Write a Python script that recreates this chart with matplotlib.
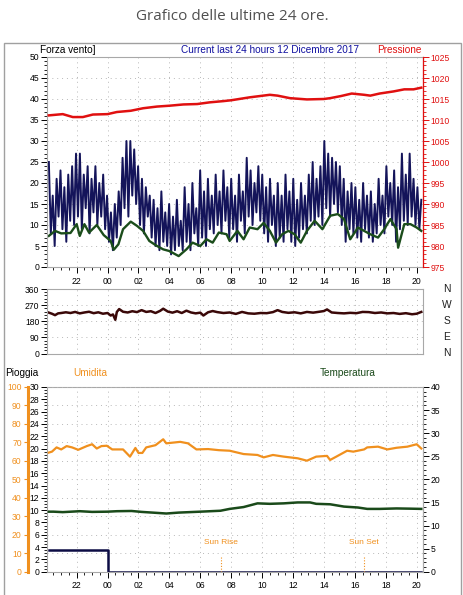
import numpy as np
import matplotlib
matplotlib.use('Agg')
import matplotlib.pyplot as plt
from matplotlib.ticker import MultipleLocator, FixedLocator
from matplotlib.patches import Rectangle

plt.rcParams['font.family'] = ['Liberation Sans', 'DejaVu Sans']

W, H = 464, 595

# ---------------- data ----------------
hour_ticks = [-2, 0, 2, 4, 6, 8, 10, 12, 14, 16, 18, 20]
hour_labels = ['22', '00', '02', '04', '06', '08', '10', '12', '14', '16', '18', '20']
t_start, t_end = -3.8, 20.3

# wind gust (Forza vento), hourly groups of samples
gust = [25, 8, 17, 5, 21, 12,
        23, 9, 19, 6, 22, 11, 24, 10,
        27, 12, 27, 9, 22, 14, 24, 8,
        21, 13, 24, 10, 20, 12, 22, 9,
        17, 6, 13, 4, 15, 7, 18, 10,
        26, 14, 30, 12, 30, 17, 28, 15,
        24, 10, 21, 8, 19, 12, 17, 7,
        16, 5, 14, 4, 18, 6, 13, 5,
        15, 3, 12, 4, 16, 5, 11, 4,
        19, 6, 15, 4, 20, 8, 14, 5,
        23, 7, 18, 5, 21, 9, 17, 8,
        22, 10, 18, 8, 23, 11, 19, 7,
        21, 9, 17, 6, 22, 11, 18, 8,
        26, 12, 23, 10, 20, 13, 24, 11,
        22, 8, 19, 6, 21, 10, 17, 5,
        20, 7, 17, 6, 22, 9, 18, 6,
        21, 5, 16, 7, 20, 9, 17, 8,
        22, 11, 25, 10, 21, 12, 24, 10,
        30, 14, 27, 12, 26, 15, 25, 13,
        24, 10, 21, 6, 18, 9, 20, 8,
        19, 7, 16, 6, 20, 9, 17, 7,
        18, 6, 15, 8, 21, 10, 17, 8,
        24, 12, 20, 10, 23, 6, 19, 9,
        27, 11, 22, 10, 27, 12, 21, 10,
        19, 9, 16]

avg_t = [-3.8, -3.4, -3.0, -2.4, -2.0, -1.8, -1.5, -1.2, -0.7, -0.25, 0.2, 0.4, 0.7, 1.0, 1.5,
         1.9, 2.3, 2.7, 3.2, 3.6, 4.0, 4.6, 5.1, 5.5, 6.0, 6.4, 6.8, 7.2, 7.7, 7.9, 8.4, 8.8,
         9.2, 9.7, 10.1, 10.5, 10.9, 11.3, 11.7, 12.1, 12.5, 12.9, 13.4, 13.9, 14.4, 14.9, 15.3,
         15.7, 16.2, 16.6, 17.0, 17.5, 17.9, 18.3, 18.7, 18.8, 19.2, 19.6, 20.0, 20.3]
avg = [7.4, 8.6, 8.0, 8.1, 10.2, 7.4, 10.2, 8.2, 10.0, 7.6, 6.2, 4.1, 5.4, 9.0, 10.8,
       9.8, 8.6, 6.2, 5.0, 4.2, 3.8, 2.6, 4.2, 5.8, 5.0, 6.6, 5.8, 8.2, 7.8, 6.2, 8.6, 6.6,
       9.4, 9.0, 10.5, 8.6, 5.8, 7.8, 8.6, 7.8, 5.8, 8.6, 11.0, 9.0, 12.2, 12.6, 11.4,
       6.6, 9.4, 8.6, 7.8, 7.0, 9.0, 11.4, 9.0, 4.6, 10.2, 10.2, 9.4, 8.6]

press_t = [-3.8, -2.9, -2.25, -1.6, -0.95, 0.0, 0.6, 1.5, 2.3, 3.2, 4.0, 4.9, 5.8, 6.6, 7.5, 8.0,
           9.2, 10.5, 11.0, 11.8, 12.9, 14.0, 14.4, 15.1, 15.8, 16.6, 17.0, 17.6, 18.5, 19.2, 19.8, 20.3]
press = [1011.1, 1011.4, 1010.7, 1010.7, 1011.3, 1011.4, 1011.9, 1012.2, 1012.8, 1013.2, 1013.4,
         1013.7, 1013.8, 1014.2, 1014.5, 1014.7, 1015.4, 1016.0, 1015.8, 1015.2, 1014.9, 1015.0,
         1015.2, 1015.7, 1016.3, 1016.0, 1015.8, 1016.3, 1016.8, 1017.3, 1017.3, 1017.7]

dir_t = [-3.8, -3.6, -3.4, -3.2, -3.0, -2.7, -2.4, -2.1, -1.8, -1.5, -1.2, -0.9, -0.6, -0.3, 0.0,
         0.2, 0.35, 0.5, 0.6, 0.75, 1.0, 1.3, 1.6, 1.9, 2.2, 2.5, 2.8, 3.1, 3.4, 3.6, 3.9, 4.2,
         4.5, 4.8, 5.1, 5.4, 5.7, 6.0, 6.2, 6.5, 6.8, 7.1, 7.5, 7.9, 8.3, 8.7, 9.1, 9.5, 9.9,
         10.3, 10.7, 11.0, 11.3, 11.7, 12.1, 12.5, 12.9, 13.3, 13.7, 14.0, 14.2, 14.5, 14.9,
         15.3, 15.7, 16.1, 16.5, 16.9, 17.3, 17.7, 18.1, 18.5, 18.9, 19.3, 19.7, 20.0, 20.3]
direction = [228, 222, 214, 224, 226, 230, 226, 232, 224, 229, 233, 225, 230, 222, 226,
             212, 218, 188, 232, 248, 233, 229, 236, 231, 242, 232, 236, 226, 238, 250, 234, 228,
             236, 226, 239, 229, 224, 228, 212, 230, 237, 231, 226, 229, 221, 232, 224, 222, 226,
             225, 231, 242, 232, 227, 230, 224, 232, 228, 233, 237, 246, 229, 226,
             224, 227, 225, 232, 231, 226, 229, 224, 226, 221, 225, 219, 222, 232]
compass = ['N', 'W', 'S', 'E', 'N']

hum_t = [-3.8, -3.6, -3.3, -3.0, -2.65, -2.3, -1.9, -1.35, -1.0, -0.7, -0.4, -0.05, 0.3, 1.0, 1.45,
         1.8, 2.0, 2.25, 2.5, 3.1, 3.6, 3.8, 4.7, 5.2, 5.75, 6.5, 7.2, 7.9, 8.8, 9.7, 10.1,
         10.7, 11.4, 12.3, 12.9, 13.5, 14.2, 14.4, 14.8, 15.5, 15.9, 16.6, 16.8, 17.5, 18.1,
         18.7, 19.4, 20.0, 20.3]
hum = [64.5, 65, 67.3, 66.2, 68, 67.3, 66, 68, 69, 66.7, 68, 68.2, 66.2, 66.2, 62.3,
       67, 64.3, 64.3, 67.3, 68.5, 71.7, 69.5, 70.3, 69.5, 66.2, 66.4, 65.8, 65.5, 63.7, 63.2, 61.9,
       63.2, 62.3, 61.4, 60.1, 62.3, 62.7, 60.5, 62.3, 65.5, 65, 66.2, 67.3, 67.7, 66.2,
       67.1, 67.7, 69, 66.7]

temp_t = [-3.8, -3.5, -2.9, -1.8, -1.0, 0.0, 0.6, 1.55, 2.2, 2.9, 3.8, 4.6, 6.0, 7.3, 7.9,
          8.8, 9.7, 10.5, 11.4, 12.3, 13.1, 13.5, 14.4, 15.3, 16.2, 16.8, 17.6, 18.7, 19.6, 20.3]
temp = [13.0, 13.0, 12.9, 13.1, 12.95, 13.0, 13.1, 13.15, 12.95, 12.8, 12.6, 12.8, 13.0, 13.2, 13.6,
        14.0, 14.8, 14.7, 14.8, 15.0, 15.0, 14.7, 14.6, 14.1, 13.9, 13.6, 13.6, 13.7, 13.65, 13.6]

rain_t = [-3.8, 0.0, 20.3]
rain = [3.6, 0.0, 0.0]

sun_rise, sun_set = 7.35, 16.6

# ---------------- styling ----------------
C_GUST = '#14145a'
C_AVG = '#1b4d1b'
C_PRESS = '#e01010'
C_DIR = '#3a0808'
C_HUM = '#f0901e'
C_TEMP = '#1a4a1a'
C_RAIN = '#0c0c44'
C_SPINE = '#a8a8a8'
GRID = dict(color='#b8b8b8', lw=0.7, linestyle=(0, (1, 4)))
TICK_FS = 6.2
XLIM = (-3.92, 20.41)

fig = plt.figure(figsize=(W / 100, H / 100), dpi=100)


def fx(px):
    return px / W


def fy(py):
    return 1 - py / H


L, R = 47, 423
ax1 = fig.add_axes([fx(L), fy(267), (R - L) / W, (267 - 57) / H])
ax2 = fig.add_axes([fx(L), fy(353.5), (R - L) / W, (353.5 - 289) / H])
ax3 = fig.add_axes([fx(L), fy(571.7), (R - L) / W, (571.7 - 387) / H])


def style_time_axis(ax, labels=True):
    ax.set_xlim(*XLIM)
    ax.xaxis.set_major_locator(FixedLocator(hour_ticks))
    ax.xaxis.set_minor_locator(MultipleLocator(0.5))
    if labels:
        ax.set_xticklabels(hour_labels)
        ax.tick_params(axis='x', which='major', length=4, width=0.7, labelsize=TICK_FS, pad=3)
        ax.tick_params(axis='x', which='minor', length=2, width=0.6)
    else:
        ax.set_xticklabels([])
        ax.tick_params(axis='x', which='both', length=0)
    for s in ax.spines.values():
        s.set_color(C_SPINE)
        s.set_linewidth(0.8)
    ax.grid(axis='x', **GRID)


# ---- top panel ----
style_time_axis(ax1)
gust_t = np.linspace(t_start, t_end, len(gust))
ax1.plot(gust_t, gust, color=C_GUST, lw=1.4)
ax1.plot(avg_t, avg, color=C_AVG, lw=1.7)
ax1.set_ylim(0, 50)
ax1.yaxis.set_major_locator(MultipleLocator(5))
ax1.yaxis.set_minor_locator(MultipleLocator(1))
ax1.tick_params(axis='y', which='major', length=4, width=0.7, labelsize=TICK_FS, pad=1.5)
ax1.tick_params(axis='y', which='minor', length=2, width=0.6)
ax1.grid(axis='y', **GRID)
ax1.set_axisbelow(True)

ax1r = ax1.twinx()
ax1r.set_ylim(975, 1025)
ax1r.plot(press_t, press, color=C_PRESS, lw=1.8)
ax1r.yaxis.set_major_locator(MultipleLocator(5))
ax1r.yaxis.set_minor_locator(MultipleLocator(1))
ax1r.tick_params(axis='y', which='major', length=4, width=0.7, labelsize=TICK_FS,
                 colors=C_PRESS, pad=1.5)
ax1r.tick_params(axis='y', which='minor', length=2, width=0.6, colors=C_PRESS)
for k, s in ax1r.spines.items():
    s.set_visible(k == 'right')
ax1r.spines['right'].set_color(C_PRESS)
ax1r.spines['right'].set_linewidth(0.9)

# ---- middle panel ----
style_time_axis(ax2, labels=False)
ax2.plot(dir_t, direction, color=C_DIR, lw=1.8)
ax2.set_ylim(0, 360)
ax2.yaxis.set_major_locator(MultipleLocator(90))
ax2.yaxis.set_minor_locator(MultipleLocator(18))
ax2.tick_params(axis='y', which='major', length=4, width=0.7, labelsize=TICK_FS, pad=1.5)
ax2.tick_params(axis='y', which='minor', length=2, width=0.6)
ax2.grid(axis='y', **GRID)
for i, lab in enumerate(compass):
    fig.text(fx(447), fy(289 + i * 16.1), lab, ha='center', va='center', fontsize=7.4, color='#202020')

# ---- bottom panel ----
style_time_axis(ax3)
ax3.set_ylim(0, 30)
ax3.step(rain_t, rain, where='post', color=C_RAIN, lw=1.8)
ax3.yaxis.set_major_locator(MultipleLocator(2))
ax3.yaxis.set_minor_locator(MultipleLocator(0.5))
ax3.tick_params(axis='y', which='major', length=4, width=0.7, labelsize=TICK_FS, pad=1.5)
ax3.tick_params(axis='y', which='minor', length=2, width=0.6)
for xs, lab in [(sun_rise, 'Sun Rise'), (sun_set, 'Sun Set')]:
    ax3.plot([xs, xs], [0, 2.55], color=C_HUM, lw=0.8, linestyle=(0, (1, 1.5)))
    ax3.text(xs, 4.7, lab, ha='center', va='center', fontsize=6.0, color=C_HUM)

ax_h = ax3.twinx()
ax_h.set_ylim(0, 100)
ax_h.yaxis.tick_left()
ax_h.plot(hum_t, hum, color=C_HUM, lw=1.6)
ax_h.yaxis.set_major_locator(MultipleLocator(10))
ax_h.tick_params(axis='y', which='major', length=3, width=0.8, labelsize=TICK_FS,
                 colors=C_HUM, pad=1.5, left=True, labelleft=True, right=False, labelright=False)
for k, s in ax_h.spines.items():
    s.set_visible(k == 'left')
ax_h.spines['left'].set_position(('outward', 13.7))
ax_h.spines['left'].set_color(C_HUM)
ax_h.spines['left'].set_linewidth(2.2)
ax_h.grid(axis='y', **GRID)

ax_t = ax3.twinx()
ax_t.set_ylim(0, 40)
ax_t.plot(temp_t, temp, color=C_TEMP, lw=1.8)
ax_t.yaxis.set_major_locator(MultipleLocator(5))
ax_t.yaxis.set_minor_locator(MultipleLocator(1))
ax_t.tick_params(axis='y', which='major', length=4, width=0.7, labelsize=TICK_FS, pad=1.5)
ax_t.tick_params(axis='y', which='minor', length=2, width=0.6)
for k, s in ax_t.spines.items():
    s.set_visible(k == 'right')
ax_t.spines['right'].set_color(C_SPINE)

# ---- texts ----
fig.text(0.5, fy(16), 'Grafico delle ultime 24 ore.', ha='center', va='center',
         fontsize=11, color='#505050', family=['Open Sans', 'DejaVu Sans'])
fig.text(fx(40), fy(50), 'Forza vento]', ha='left', va='center', fontsize=7.2, color='black')
fig.text(fx(270), fy(50), 'Current last 24 hours 12 Dicembre 2017', ha='center', va='center',
         fontsize=7.2, color='#1010a0')
fig.text(fx(377), fy(50), 'Pressione', ha='left', va='center', fontsize=7.2, color=C_PRESS)
fig.text(fx(5), fy(373), 'Pioggia', ha='left', va='center', fontsize=7.2, color='black')
fig.text(fx(73), fy(373), 'Umidita', ha='left', va='center', fontsize=7.2, color=C_HUM)
fig.text(fx(320), fy(373), 'Temperatura', ha='left', va='center', fontsize=7.2, color=C_TEMP)

# outer frame
fig.patches.append(Rectangle((fx(4), -0.05), fx(457), fy(43) + 0.05, transform=fig.transFigure,
                             fill=False, edgecolor='#a0a0a0', lw=1.0))

fig.savefig('out.png', dpi=100)
